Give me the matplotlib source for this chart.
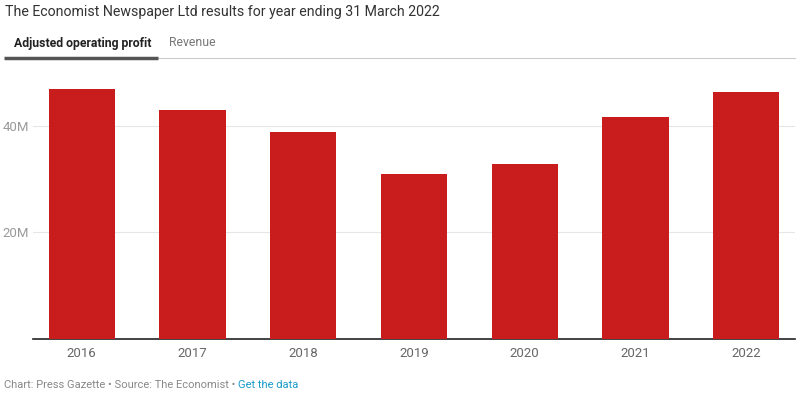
import matplotlib.pyplot as plt
from matplotlib.lines import Line2D

# ----------------------------------------------------
# Data
# ----------------------------------------------------
years = ["2016", "2017", "2018", "2019", "2020", "2021", "2022"]
profit_m = [46.9, 43.0, 38.9, 31.0, 32.9, 41.7, 46.4]
y_ticks = [20, 40]
y_tick_labels = ["20M", "40M"]

plt.rcParams["font.family"] = ["Roboto", "DejaVu Sans"]

W, H = 808, 403
fig = plt.figure(figsize=(W / 100, H / 100), dpi=100)

# axes placed in pixel coordinates
left, right, top, bottom = 33, 795, 72.5, 339
ax = fig.add_axes([left / W, 1 - bottom / H, (right - left) / W, (bottom - top) / H])

ax.bar(range(len(years)), profit_m, width=0.6, color="#c91d1d", zorder=3)
ax.set_xlim(-0.44, len(years) - 1 + 0.44)
ax.set_ylim(0, 50)

ax.set_yticks(y_ticks)
ax.set_yticklabels(y_tick_labels)
ax.set_xticks(range(len(years)))
ax.set_xticklabels(years)

ax.grid(axis="y", color="#e6e6e6", linewidth=0.8, zorder=0)
for s in ["top", "right", "left"]:
    ax.spines[s].set_visible(False)
ax.spines["bottom"].set_color("#222222")
ax.spines["bottom"].set_linewidth(1.2)

ax.tick_params(axis="y", length=0, pad=3, labelsize=9.5, labelcolor="#9a9a9a")
ax.tick_params(axis="x", length=0, pad=6, labelsize=9.5, labelcolor="#666666")

# ----------------------------------------------------
# Header, tabs and footer
# ----------------------------------------------------
fig.text(5 / W, 1 - 12 / H, "The Economist Newspaper Ltd results for year ending 31 March 2022",
         fontsize=10.2, color="#333333", va="center", ha="left")
fig.text(14 / W, 1 - 43 / H, "Adjusted operating profit", fontsize=8.8,
         fontweight="bold", color="#222222", va="center", ha="left")
fig.text(169 / W, 1 - 43 / H, "Revenue", fontsize=8.8, color="#777777",
         va="center", ha="left")

fig.add_artist(Line2D([158 / W, 795 / W], [1 - 58 / H, 1 - 58 / H],
                      color="#cccccc", linewidth=0.8, transform=fig.transFigure))
fig.add_artist(Line2D([4 / W, 158 / W], [1 - 57.5 / H, 1 - 57.5 / H],
                      color="#555555", linewidth=2.5, transform=fig.transFigure,
                      solid_capstyle="butt"))

foot = fig.text(4 / W, 1 - 385 / H, "Chart: Press Gazette \u2022 Source: The Economist \u2022 ",
                fontsize=8, color="#888888", va="center", ha="left")
fig.canvas.draw()
bb = foot.get_window_extent()
fig.text(bb.x1 / W, 1 - 385 / H, "Get the data", fontsize=8, color="#1a9bc9",
         va="center", ha="left")

fig.savefig("out.png", dpi=100)
